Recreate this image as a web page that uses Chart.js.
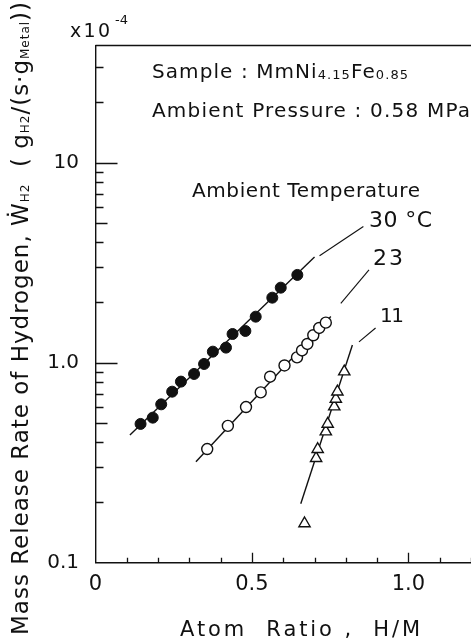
<!DOCTYPE html>
<html>
<head>
<meta charset="utf-8">
<script src="https://cdn.jsdelivr.net/npm/chart.js@4.4.1/dist/chart.umd.min.js"></script>
<style>
  html, body { margin: 0; padding: 0; background: #fff; overflow: hidden; }
  #wrap { position: absolute; left: 0; top: 0; width: 480px; height: 639px; }
</style>
</head>
<body>
<div id="wrap"><canvas id="chart" width="480" height="639"></canvas></div>
<script>
"use strict";

// 30 °C (filled circles)
const hot30X = [0.144, 0.183, 0.210, 0.245, 0.273, 0.315, 0.347, 0.375, 0.417, 0.438, 0.479, 0.512, 0.565, 0.592, 0.645];
const hot30Y = [0.494, 0.531, 0.619, 0.716, 0.804, 0.878, 0.985, 1.135, 1.189, 1.391, 1.440, 1.698, 2.113, 2.371, 2.745];

// 23 °C (open circles)
const warm23X = [0.357, 0.423, 0.481, 0.528, 0.558, 0.604, 0.644, 0.660, 0.677, 0.696, 0.715, 0.736];
const warm23Y = [0.370, 0.483, 0.600, 0.710, 0.851, 0.968, 1.063, 1.151, 1.240, 1.371, 1.491, 1.585];

// 11 °C (open triangles)
const cool11X = [0.668, 0.705, 0.710, 0.736, 0.742, 0.763, 0.768, 0.773, 0.795];
const cool11Y = [0.157, 0.333, 0.369, 0.452, 0.494, 0.603, 0.658, 0.716, 0.902];

// fitted lines
const fit30X = [0.110, 0.700];
const fit30Y = [0.435, 3.37];
const fit23X = [0.321, 0.752];
const fit23Y = [0.320, 1.70];
const fit11X = [0.656, 0.821];
const fit11Y = [0.197, 1.226];

// leader lines to the temperature labels
const lead30X = [0.716, 0.856];
const lead30Y = [3.42, 4.79];
const lead23X = [0.784, 0.874];
const lead23Y = [1.98, 2.91];
const lead11X = [0.842, 0.895];
const lead11Y = [1.27, 1.49];

const yTickLabels = { 0.1: '0.1', 1: '1.0', 10: '10' };
const xTickLabels = { 0: '0', 5: '0.5', 10: '1.0' };

const FONT = '"DejaVu Sans", sans-serif';
const INK = '#111';

const pts = (xs, ys) => xs.map((x, i) => ({ x: x, y: ys[i] }));

const lineSet = (xs, ys, w) => ({
    data: pts(xs, ys),
    showLine: true,
    borderColor: INK,
    borderWidth: w,
    pointRadius: 0,
    fill: false
});

// text drawn on the canvas, stretched to the width seen in the picture
const notes = [
    { x: 70, y: 37, w: 40, parts: [['x10', 19, 0]] },
    { x: 115, y: 24, sp: 0, parts: [['-4', 13, 0]] },
    { x: 152, y: 78, w: 256, parts: [['Sample : MmNi', 20, 0], ['4.15', 13, 1], ['Fe', 20, 0], ['0.85', 13, 1]] },
    { x: 152, y: 117, w: 318, parts: [['Ambient Pressure : 0.58 MPa', 20, 0]] },
    { x: 192, y: 197, w: 228, parts: [['Ambient Temperature', 20, 0]] },
    { x: 369, y: 227, w: 63, parts: [['30 °C', 22, 0]] },
    { x: 373, y: 265, w: 30, parts: [['23', 22, 0]] },
    { x: 380, y: 322, sp: -1.5, parts: [['11', 20, 0]] },
    { x: 180, y: 636, w: 240, parts: [['Atom  Ratio ,  H/M', 21, 0]] },
    { x: 28, y: 635, w: 633, angle: -Math.PI / 2, parts: [
        ['Mass Release Rate of Hydrogen, \u1E86', 23, 0], ['H2', 12, 1],
        ['  ( g', 23, 0], ['H2', 12, 1], ['/(s\u00B7g', 23, 0], ['Metal', 12, 1], ['))', 23, 0]
    ] }
];

function drawNote(ctx, note) {
    const parts = note.parts.map(([t, size, dy]) => {
        ctx.font = size + 'px ' + FONT;
        ctx.letterSpacing = '0px';
        return { t: t, size: size, dy: dy, w: ctx.measureText(t).width, n: [...t].length };
    });
    const natural = parts.reduce((s, p) => s + p.w, 0);
    const count = parts.reduce((s, p) => s + p.n, 0);
    const sp = note.w ? (note.w - natural) / (count - 1) : (note.sp || 0);
    ctx.save();
    ctx.translate(note.x, note.y);
    if (note.angle) ctx.rotate(note.angle);
    let cx = 0;
    parts.forEach(p => {
        ctx.font = p.size + 'px ' + FONT;
        ctx.letterSpacing = sp + 'px';
        ctx.fillText(p.t, cx, p.dy);
        cx += p.w + sp * p.n;
    });
    ctx.restore();
}

const decor = {
    id: 'decor',
    afterDraw(chart) {
        const { ctx, chartArea: area, scales: { x, y } } = chart;
        ctx.save();
        ctx.strokeStyle = INK;
        ctx.lineWidth = 1.3;
        ctx.beginPath();
        // top frame line
        ctx.moveTo(area.left, area.top);
        ctx.lineTo(chart.width, area.top);
        // inward ticks on the y axis
        y.ticks.forEach(t => {
            const v = t.value;
            const e = Math.floor(Math.log10(v) + 1e-9);
            const m = v / Math.pow(10, e);
            if (Math.abs(m - Math.round(m)) > 1e-6 || v < 0.1001 || v > y.max) return;
            const len = Math.round(m) === 1 ? 22 : Math.round(m) === 5 ? 12 : 8;
            const py = Math.round(y.getPixelForValue(v)) + 0.5;
            ctx.moveTo(area.left, py);
            ctx.lineTo(area.left + len, py);
        });
        // inward ticks on the x axis
        x.ticks.forEach(t => {
            const k = Math.round(t.value * 10);
            if (k <= 0) return;
            const len = k % 5 === 0 ? 10 : 5;
            const px = Math.round(x.getPixelForValue(t.value)) + 0.5;
            ctx.moveTo(px, area.bottom);
            ctx.lineTo(px, area.bottom - len);
        });
        ctx.stroke();
        ctx.fillStyle = INK;
        ctx.textAlign = 'left';
        ctx.textBaseline = 'alphabetic';
        notes.forEach(n => drawNote(ctx, n));
        ctx.restore();
    }
};

new Chart(document.getElementById('chart'), {
    type: 'scatter',
    data: {
        datasets: [
            {
                data: pts(hot30X, hot30Y),
                pointStyle: 'circle',
                pointRadius: 5.5,
                backgroundColor: INK,
                borderColor: INK,
                borderWidth: 1
            },
            {
                data: pts(warm23X, warm23Y),
                pointStyle: 'circle',
                pointRadius: 5.5,
                backgroundColor: '#fff',
                borderColor: INK,
                borderWidth: 1.4
            },
            {
                data: pts(cool11X, cool11Y),
                pointStyle: 'triangle',
                pointRadius: 6.5,
                backgroundColor: '#fff',
                borderColor: INK,
                borderWidth: 1.4
            },
            lineSet(fit30X, fit30Y, 1.4),
            lineSet(fit23X, fit23Y, 1.4),
            lineSet(fit11X, fit11Y, 1.4),
            lineSet(lead30X, lead30Y, 1.1),
            lineSet(lead23X, lead23Y, 1.1),
            lineSet(lead11X, lead11Y, 1.1)
        ]
    },
    options: {
        responsive: false,
        animation: false,
        layout: { padding: { left: 0, top: 45.5, right: 5, bottom: 0 } },
        plugins: {
            legend: { display: false },
            tooltip: { enabled: false }
        },
        scales: {
            x: {
                type: 'linear',
                min: 0,
                max: 1.2,
                afterFit: s => { s.height = 76.3; },
                grid: { display: false, drawTicks: false },
                border: { display: true, color: INK, width: 1.4 },
                ticks: {
                    stepSize: 0.1,
                    autoSkip: false,
                    maxRotation: 0,
                    padding: 9,
                    color: INK,
                    font: { family: FONT, size: 21 },
                    callback: v => xTickLabels[Math.round(v * 10)] || ''
                }
            },
            y: {
                type: 'logarithmic',
                min: 0.1,
                max: 38.5,
                afterFit: s => { s.width = 95.5; },
                grid: { display: false, drawTicks: false },
                border: { display: true, color: INK, width: 1.4 },
                ticks: {
                    autoSkip: false,
                    padding: 16.5,
                    color: INK,
                    font: { family: FONT, size: 20 },
                    callback: v => {
                        for (const k in yTickLabels) {
                            if (Math.abs(v - Number(k)) < 1e-6 * Number(k)) return yTickLabels[k];
                        }
                        return '';
                    }
                }
            }
        }
    },
    plugins: [decor]
});
</script>
</body>
</html>
